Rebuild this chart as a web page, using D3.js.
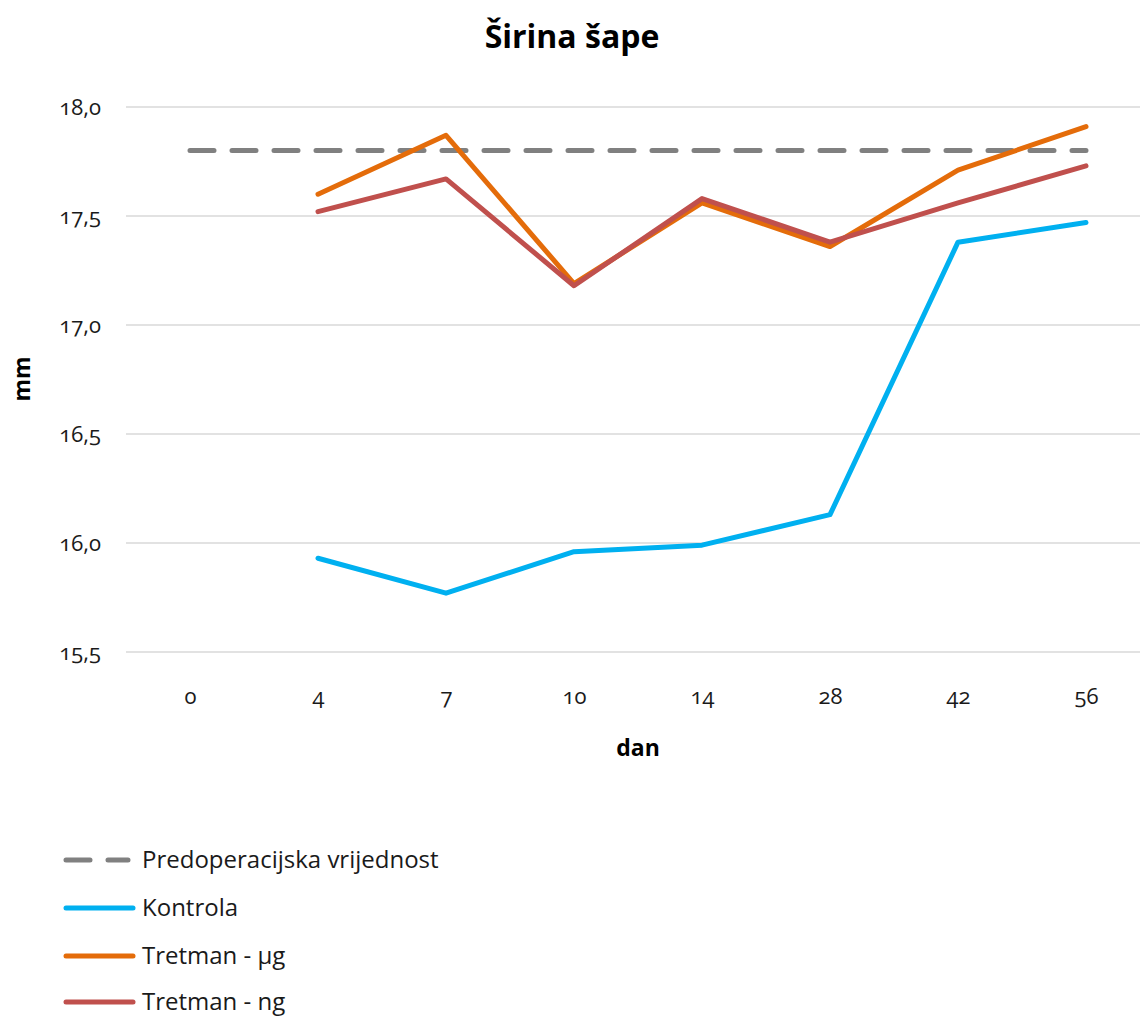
<!DOCTYPE html>
<html><head><meta charset="utf-8">
<script src="https://cdn.jsdelivr.net/npm/d3@7"></script>
<style>
body{margin:0;background:#fff;}
text{font-family:"Open Sans","Noto Sans",sans-serif;font-variant-numeric:oldstyle-nums;}
</style></head><body>
<svg id="c" width="1140" height="1018"></svg>
<script>
const categories = ["0","4","7","10","14","28","42","56"];
const yTicks = [15.5,16.0,16.5,17.0,17.5,18.0];
const seriesNames = ["Predoperacijska vrijednost","Kontrola","Tretman - µg","Tretman - ng"];
const predoperacijska = [17.8,17.8,17.8,17.8,17.8,17.8,17.8,17.8];
const kontrola = [null,15.93,15.77,15.96,15.99,16.13,17.38,17.47];
const tretmanUg = [null,17.60,17.87,17.19,17.56,17.36,17.71,17.91];
const tretmanNg = [null,17.52,17.67,17.18,17.58,17.38,17.56,17.73];
const colors = ["#808080","#00B0F0","#E46C0A","#C0504D"];

(function(){
const svg = d3.select("#c");
const pL = 126, pR = 1150, pT = 107, pB = 652;
const x = d3.scalePoint().domain(categories).range([pL,pR]).padding(0.5);
const y = d3.scaleLinear().domain([15.5,18.0]).range([pB,pT]);

svg.append("g").selectAll("line").data(yTicks).join("line")
  .attr("x1",pL).attr("x2",pR).attr("y1",d=>y(d)).attr("y2",d=>y(d))
  .attr("stroke","#d9d9d9").attr("stroke-width",1.5);

const yAxis = d3.axisLeft(y).tickValues(yTicks).tickSize(0).tickPadding(0)
  .tickFormat(d=>d3.format(".1f")(d).replace(".",","));
const gy = svg.append("g").attr("transform",`translate(101,0)`).call(yAxis);
gy.select(".domain").remove();
gy.selectAll("text").attr("font-size",22).attr("fill","#1a1a1a").attr("dy","0.32em")
  .style("font-family",'"Open Sans","Noto Sans",sans-serif');

const xAxis = d3.axisBottom(x).tickSize(0).tickPadding(0);
const gx = svg.append("g").attr("transform",`translate(0,697)`).call(xAxis);
gx.select(".domain").remove();
gx.selectAll("text").attr("font-size",22).attr("fill","#1a1a1a").attr("dy","0.32em")
  .style("font-family",'"Open Sans","Noto Sans",sans-serif');

const data = [predoperacijska,kontrola,tretmanUg,tretmanNg];
const line = d3.line().defined(d=>d.v!=null).x(d=>x(d.c)).y(d=>y(d.v));
data.forEach((arr,i)=>{
  const pts = categories.map((c,j)=>({c,v:arr[j]}));
  svg.append("path").datum(pts).attr("d",line)
    .attr("fill","none").attr("stroke",colors[i]).attr("stroke-width",5)
    .attr("stroke-linecap","round").attr("stroke-linejoin","round")
    .attr("stroke-dasharray", i===0 ? "24,18" : null);
});

svg.append("text").attr("x",572).attr("y",37).attr("dy","0.35em").attr("text-anchor","middle")
  .attr("font-size",32).attr("font-weight","bold").attr("fill","#000").text("Širina šape");
svg.append("text").attr("transform","translate(22,379) rotate(-90)").attr("dy","0.35em")
  .attr("text-anchor","middle").attr("font-size",23).attr("font-weight","bold").attr("fill","#000").text("mm");
svg.append("text").attr("x",638).attr("y",748).attr("dy","0.35em").attr("text-anchor","middle")
  .attr("font-size",23).attr("font-weight","bold").attr("fill","#000").text("dan");

const legY = [860,908,956,1002];
const lg = svg.append("g");
seriesNames.forEach((n,i)=>{
  lg.append("line").attr("x1",66).attr("x2",i===0?128:133).attr("y1",legY[i]).attr("y2",legY[i])
    .attr("stroke",colors[i]).attr("stroke-width",5).attr("stroke-linecap","round")
    .attr("stroke-dasharray", i===0 ? "24,18" : null);
  lg.append("text").attr("x",142).attr("y",legY[i]).attr("dy","0.35em")
    .attr("font-size",24).attr("fill","#1a1a1a").text(n);
});
})();
</script></body></html>
